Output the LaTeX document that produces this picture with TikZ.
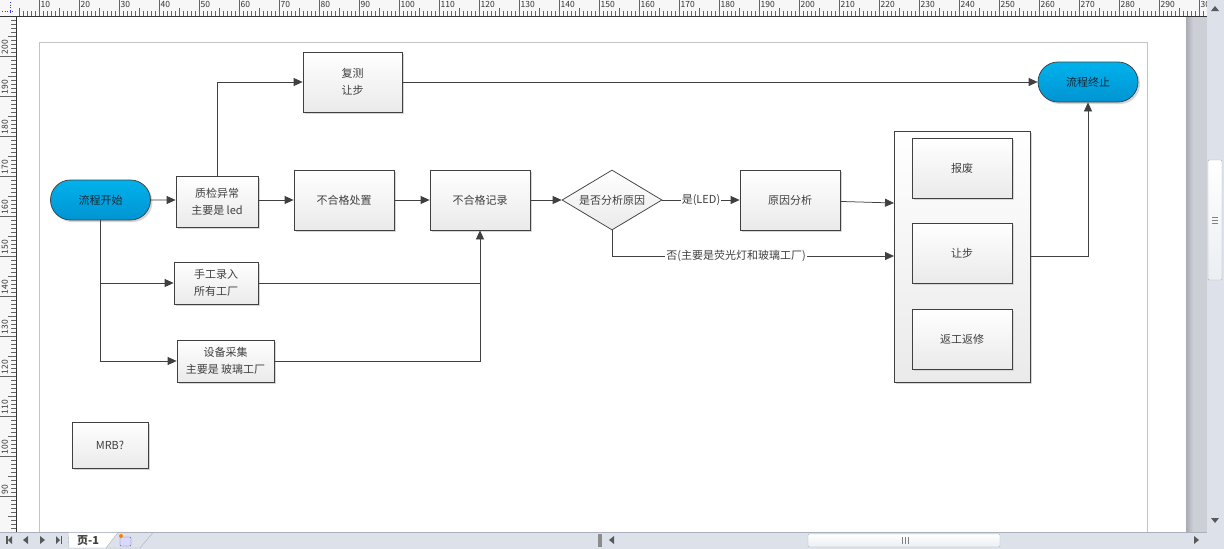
\documentclass[tikz,border=0pt]{standalone}
\usepackage{fontspec}
\setmainfont{Noto Sans CJK SC}
\usepackage{xcolor}
\usepackage{tikz}
\usetikzlibrary{shapes.geometric, shapes.misc, arrows.meta, positioning, calc, shadows}
\definecolor{mydark}{RGB}{64,64,64}
\definecolor{mytext}{RGB}{64,64,64}
\definecolor{myblue}{RGB}{0,178,236}
\definecolor{mybluedark}{RGB}{0,148,210}
\definecolor{myink}{RGB}{24,40,56}
\definecolor{hdrgray}{RGB}{234,234,234}
\definecolor{myshadow}{RGB}{214,214,214}
\definecolor{mypage}{RGB}{196,196,196}
\definecolor{myruler}{RGB}{247,247,247}
\definecolor{mytick}{RGB}{100,100,100}
\definecolor{mybar}{RGB}{221,226,234}
\definecolor{mybarline}{RGB}{168,176,188}
\definecolor{mystripa}{RGB}{168,172,178}
\definecolor{mystripb}{RGB}{204,208,214}
\tikzset{
  box/.style={rectangle, draw=mydark, top color=white, bottom color=hdrgray,
    text=mytext, align=center, font=\fontsize{11}{17}\selectfont,
    line width=0.75pt, inner sep=0pt,
    general shadow={fill=myshadow, shadow xshift=2pt, shadow yshift=-2pt}},
  term/.style={rounded rectangle, draw=mydark, top color=myblue, bottom color=mybluedark,
    text=myink, font=\fontsize{11}{17}\selectfont, line width=0.75pt,
    minimum width=100pt, minimum height=40pt, inner sep=0pt,
    general shadow={fill=myshadow, shadow xshift=2pt, shadow yshift=-2pt}},
  decide/.style={diamond, draw=mydark, top color=white, bottom color=hdrgray,
    text=mytext, font=\fontsize{11}{17}\selectfont, line width=0.75pt,
    minimum width=100pt, minimum height=60pt, inner sep=0pt, aspect=1.67},
  arrow/.style={-{Triangle[length=9pt, width=8pt]}, line width=0.75pt, color=mydark},
  line/.style={line width=0.75pt, color=mydark},
  lbl/.style={fill=white, text=mytext, inner sep=1pt, font=\fontsize{11}{13}\selectfont},
  tick/.style={mytick, line width=0.6pt},
  rulernum/.style={text=black!80, inner sep=0pt, font=\fontsize{8.5}{8.5}\selectfont},
  navtip/.style={fill=black!65}
}

\begin{document}
\begin{tikzpicture}[x=1pt, y=-1pt]
  \useasboundingbox (0,0) rectangle (1224,549);
  \fill[white] (0,0) rectangle (1224,549);

  % page border
  \draw[mypage, line width=0.8pt] (39,549) -- (39,42.5) -- (1147,42.5) -- (1147,549);

  % start, check and record
  \node[term] (start) at (100.5,200) {流程开始};
  \node[box, minimum width=82pt, minimum height=51pt] (qc) at (217,201.5) {质检异常\\主要是 led};
  \node[box, minimum width=100pt, minimum height=60pt] (handle) at (344,200) {不合格处置};
  \node[box, minimum width=100pt, minimum height=60pt] (rec) at (480,200) {不合格记录};
  \node[decide] (ask) at (612,200) {是否分析原因};
  \node[box, minimum width=100pt, minimum height=60pt] (cause) at (790,200) {原因分析};

  % top branch
  \node[box, minimum width=99pt, minimum height=60pt] (retest) at (352.5,82) {复测\\让步};
  \node[term] (stop) at (1088,82) {流程终止};

  % disposal group
  \node[box, minimum width=136pt, minimum height=251pt] (grp) at (962,256.5) {};
  \node[box, minimum width=100pt, minimum height=60pt] (scrap) at (962,168) {报废};
  \node[box, minimum width=100pt, minimum height=60pt] (concede) at (962,253) {让步};
  \node[box, minimum width=100pt, minimum height=60pt] (rework) at (962,339) {返工返修};
  \coordinate (grpin) at (894,203);
  \coordinate (grpno) at (894,256);

  % input sources
  \node[box, minimum width=84pt, minimum height=42pt] (manual) at (216,283) {手工录入\\所有工厂};
  \node[box, minimum width=97pt, minimum height=42pt] (device) at (225.5,361) {设备采集\\主要是 玻璃工厂};
  \node[box, minimum width=76pt, minimum height=46pt] (mrb) at (110,445) {MRB?};

  % connectors
  \draw[arrow] (start) -- (start -| qc.west);
  \draw[arrow] (qc.east |- handle) -- (handle);
  \draw[arrow] (handle) -- (rec);
  \draw[arrow] (rec) -- (ask);
  \draw[arrow] (ask) -- node[lbl] {是(LED)} (cause);
  \draw[arrow] (cause) -- (grpin);
  \draw[arrow] (ask.south) |- node[lbl, pos=0.72] {否(主要是荧光灯和玻璃工厂)} (grpno);
  \draw[arrow] (grp.east) -| (stop.south);
  \draw[arrow] (qc.north) |- (retest.west);
  \draw[arrow] (retest) -- (stop);
  \draw[arrow] (start.south) |- (device.west);
  \draw[arrow] (start.south |- manual.west) -- (manual.west);
  \draw[line] (manual.east) -- (manual.east -| rec.south);
  \draw[arrow] (device.east) -| (rec.south);

  % rulers
  \fill[myruler] (0,0) rectangle (1207,16);
  \fill[myruler] (0,16) rectangle (16,532);
  \begin{scope}
    \clip (16,0) rectangle (1207,16);
    \foreach \v in {4,...,302}{
      \pgfmathsetmacro{\tx}{4*\v-1}
      \pgfmathtruncatemacro{\tm}{mod(\v,10)}
      \pgfmathtruncatemacro{\tf}{mod(\v,5)}
      \ifnum\tm=0\relax
        \draw[tick] (\tx,0) -- (\tx,16);
        \node[rulernum, anchor=north west] at (\tx+1.5,1.5) {\v};
      \else\ifnum\tf=0\relax
        \draw[tick] (\tx,8) -- (\tx,16);
      \else
        \draw[tick] (\tx,11) -- (\tx,16);
      \fi\fi
    }
  \end{scope}
  \begin{scope}
    \clip (0,16) rectangle (16,532);
    \foreach \v in {81,...,210}{
      \pgfmathsetmacro{\ty}{856-4*\v}
      \pgfmathtruncatemacro{\tm}{mod(\v,10)}
      \pgfmathtruncatemacro{\tf}{mod(\v,5)}
      \ifnum\tm=0\relax
        \draw[tick] (0,\ty) -- (16,\ty);
        \node[rulernum, rotate=90, anchor=north west] at (1.5,\ty-1.5) {\v};
      \else\ifnum\tf=0\relax
        \draw[tick] (8,\ty) -- (16,\ty);
      \else
        \draw[tick] (11,\ty) -- (16,\ty);
      \fi\fi
    }
  \end{scope}
  \fill[myruler] (0,0) rectangle (16,16);
  \draw[blue!80, dotted, line width=0.6pt] (2,11) -- (15,11) (10,2) -- (10,15);
  \draw[black!80, line width=0.8pt] (0,16.5) -- (1207,16.5) (16.5,16) -- (16.5,532);

  % right side strip and scrollbar
  \shade[left color=mystripa, right color=mystripb] (1186,17) rectangle (1193,532);
  \fill[mystripb] (1193,17) rectangle (1207,532);
  \fill[mybar] (1207,0) rectangle (1224,549);
  \fill[navtip] (1211,11) -- (1219,11) -- (1215,6) -- cycle;
  \fill[navtip] (1211,518) -- (1219,518) -- (1215,523) -- cycle;
  \draw[mybarline, top color=white, bottom color=mybar!60, rounded corners=1pt]
    (1208,160) rectangle (1222,280);
  \draw[black!50] (1212,217) -- (1218,217) (1212,220) -- (1218,220) (1212,223) -- (1218,223);

  % bottom bar
  \fill[mybar] (0,532) rectangle (1207,549);
  \draw[mybarline] (0,532.5) -- (1207,532.5);
  \fill[navtip] (6,536) rectangle (7.5,544);
  \fill[navtip] (8,540) -- (12,536) -- (12,544) -- cycle;
  \fill[navtip] (23,540) -- (28,536) -- (28,544) -- cycle;
  \fill[navtip] (40,536) -- (45,540) -- (40,544) -- cycle;
  \fill[navtip] (56,536) -- (60,540) -- (56,544) -- cycle;
  \fill[navtip] (60.5,536) rectangle (62,544);
  \filldraw[fill=white, draw=mybarline] (68,532.5) -- (69,548) -- (106,548) -- (118,532.5) -- cycle;
  \node[text=black!75, font=\fontsize{11}{11}\selectfont\bfseries, inner sep=0pt] (tab) at (88,540.5) {页-1};
  \draw[mybarline] (106,548) -- (140,548) -- (153,532.5);
  \filldraw[fill=blue!15, draw=blue!45!black!60, rounded corners=1pt] (120,537) rectangle (131,546);
  \fill[orange] (121,536) circle (2pt);
  \fill[black!45] (598,534) rectangle (602,547);
  \fill[navtip] (609,540) -- (614,536) -- (614,544) -- cycle;
  \draw[mybarline, top color=white, bottom color=mybar!60, rounded corners=1pt]
    (808,534) rectangle (1000,547);
  \draw[black!50] (902,537) -- (902,544) (905,537) -- (905,544) (908,537) -- (908,544);
  \fill[navtip] (1194,536) -- (1199,540) -- (1194,544) -- cycle;
\end{tikzpicture}
\end{document}
